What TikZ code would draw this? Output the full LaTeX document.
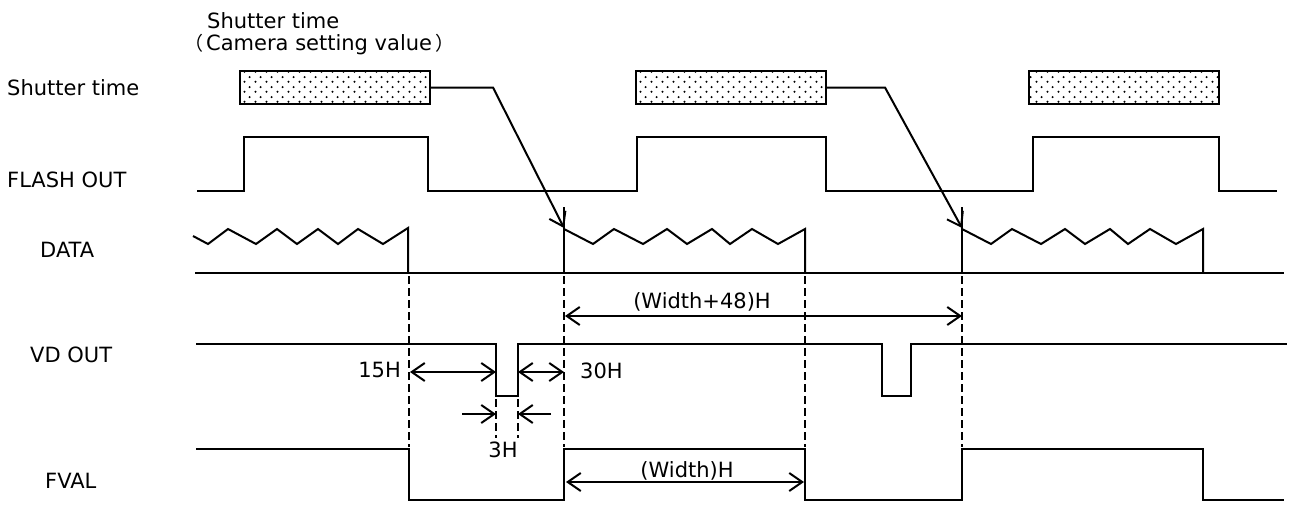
\documentclass[tikz,border=0pt]{standalone}
\usepackage{fontspec}
\setmainfont{DejaVu Sans}
\newfontfamily\cjk{Noto Sans CJK JP}
\usetikzlibrary{arrows.meta,patterns}
\pgfdeclarepatternformonly{sdots}{\pgfpointorigin}{\pgfpoint{11pt}{10pt}}{\pgfpoint{11pt}{10pt}}{%
  \pgfpathcircle{\pgfpoint{2.75pt}{2.5pt}}{1.2pt}%
  \pgfpathcircle{\pgfpoint{8.25pt}{7.5pt}}{1.2pt}%
  \pgfusepath{fill}}
\tikzset{
  sig/.style={line width=2pt, line join=miter},
  shbox/.style={draw, line width=2.2pt, pattern=sdots, pattern color=black,
    minimum width=190pt, minimum height=33pt, inner sep=0pt},
  barb/.tip={Straight Barb[length=13pt,width=18pt,line width=2pt]},
  conn/.style={line width=2pt, -barb},
  dim/.style={line width=2pt, barb-barb},
  sdim/.style={line width=2pt, -barb},
  dsh/.style={line width=2pt, dash pattern=on 8pt off 4pt},
  lbl/.style={inner sep=0pt, font=\fontsize{21}{25}\selectfont},
}
\begin{document}
\begin{tikzpicture}[x=1pt,y=-1pt]
\useasboundingbox (0,0) rectangle (1293,504);

% labels
\node[lbl, anchor=base west] (ttl) at (207,28) {Shutter time};
\node[lbl, anchor=base west] (ttl2) at (184,50) {{\cjk\fontsize{19}{22}\selectfont （}\hspace{3pt}Camera setting value\hspace{3pt}{\cjk\fontsize{19}{22}\selectfont ）}};
\node[lbl, anchor=base west] (lsh) at (7,95) {Shutter time};
\node[lbl, anchor=base west] (lfl) at (7,187) {FLASH OUT};
\node[lbl, anchor=base west] (lda) at (40,257) {DATA};
\node[lbl, anchor=base west] (lvd) at (30,362) {VD OUT};
\node[lbl, anchor=base west] (lfv) at (45,488) {FVAL};

% shutter boxes
\node[shbox] (b1) at (335,87.5) {};
\node[shbox] (b2) at (731,87.5) {};
\node[shbox] (b3) at (1124,87.5) {};

% FLASH OUT
\draw[sig] (197,191) -- (244,191) -- (244,137) -- (428,137) -- (428,191) -- (637,191)
  -- (637,137) -- (826,137) -- (826,191) -- (1033,191) -- (1033,137) -- (1219,137)
  -- (1219,191) -- (1277,191);

% DATA
\draw[sig] (195,273) -- (1284,273);
\draw[sig] (193,236) -- (208,244) -- (228,229) -- (256,244) -- (277,229) -- (297,244)
  -- (318,229) -- (338,244) -- (358,229) -- (383,244) -- (408,228) -- (408,273);
\foreach \s in {0,398}{
  \draw[sig, xshift=\s pt] (564,229) -- (593,244) -- (614,229) -- (643,244) -- (667,229)
    -- (687,244) -- (712,229) -- (730,244) -- (752,229) -- (778,244) -- (805,229) -- (805,273);
  \draw[sig, xshift=\s pt] (564,273) -- (564,207);
}

% connectors
\coordinate (k1) at (493,87.5);
\coordinate (t1) at (564,228);
\coordinate (k2) at (885,87.5);
\coordinate (t2) at (962,228);
\draw[conn] (b1.east) -- (k1) -- (t1);
\draw[conn] (b2.east) -- (k2) -- (t2);

% VD OUT
\draw[sig] (196,344) -- (496,344) -- (496,396) -- (518,396) -- (518,344) -- (882,344)
  -- (882,396) -- (911,396) -- (911,344) -- (1287,344);

% FVAL
\draw[sig] (196,449) -- (409,449) -- (409,500) -- (564,500) -- (564,449) -- (805,449)
  -- (805,500) -- (962,500) -- (962,449) -- (1203,449) -- (1203,500) -- (1284,500);

% dashed guides
\foreach \x in {409,564,805,962}{ \draw[dsh] (\x,276) -- (\x,447); }
\foreach \x in {496,518}{ \draw[dsh] (\x,399) -- (\x,438); }

% dimensions
\coordinate (w48a) at (565,316); \coordinate (w48b) at (962,316);
\draw[dim] (w48a) -- (w48b);
\node[lbl, anchor=base] (lw48) at (702,308) {(Width+48)H};

\coordinate (d15a) at (410,372); \coordinate (d15b) at (496,372);
\draw[dim] (d15a) -- (d15b);
\node[lbl, anchor=base east] (l15) at (401,377) {15H};

\coordinate (d30a) at (518,372); \coordinate (d30b) at (564,372);
\draw[dim] (d30a) -- (d30b);
\node[lbl, anchor=base west] (l30) at (580,378) {30H};

\coordinate (d3a) at (462,414); \coordinate (d3b) at (496,414);
\coordinate (d3c) at (551,414); \coordinate (d3d) at (518,414);
\draw[sdim] (d3a) -- (d3b);
\draw[sdim] (d3c) -- (d3d);
\node[lbl, anchor=base] (l3) at (503,457) {3H};

\coordinate (wa) at (566,482); \coordinate (wb) at (804,482);
\draw[dim] (wa) -- (wb);
\node[lbl, anchor=base] (lw) at (687,477) {(Width)H};
\end{tikzpicture}
\end{document}
